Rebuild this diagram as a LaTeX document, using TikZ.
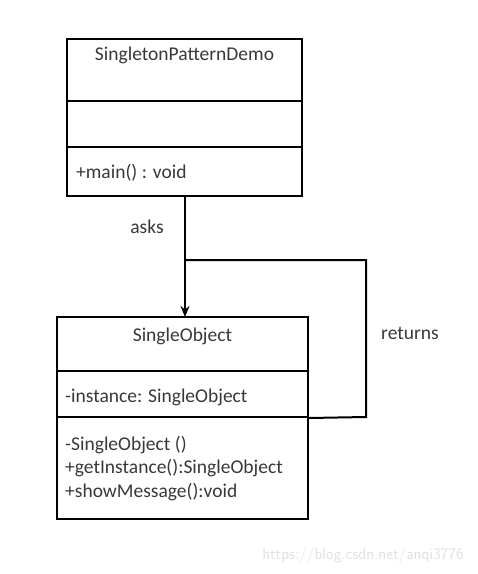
\documentclass[tikz,border=0pt]{standalone}
\usepackage{fontspec}
\setmainfont{Carlito}
\usetikzlibrary{arrows.meta}
\begin{document}
\begin{tikzpicture}[x=1pt,y=-1pt,
  comp/.style={draw=black, line width=2pt, inner sep=0pt},
  lbl/.style={font=\fontsize{19.5}{23}\selectfont, text=black!78, inner sep=0pt},
  conn/.style={draw=black, line width=2pt},
  ]
\useasboundingbox (0,0) rectangle (478,574);
% top class
\node[comp, minimum width=235pt, minimum height=62pt] (t1) at (184.5,70) {};
\node[comp, minimum width=235pt, minimum height=46pt] (t2) at (184.5,124) {};
\node[comp, minimum width=235pt, minimum height=49pt] (t3) at (184.5,171.5) {};
\node[lbl] (tname) at (184.5,55) {SingletonPatternDemo};
\node[lbl, anchor=west] (tmain) at (76,173) {+main() : void};
% bottom class
\node[comp, minimum width=251pt, minimum height=54pt] (b1) at (182.5,344) {};
\node[comp, minimum width=251pt, minimum height=46pt] (b2) at (182.5,394) {};
\node[comp, minimum width=251pt, minimum height=102pt] (b3) at (182.5,468) {};
\node[lbl] (bname) at (182.5,336) {SingleObject};
\node[lbl, anchor=west] (binst) at (65,397) {-instance: SingleObject};
\node[lbl, anchor=west] (bm1) at (65,445) {-SingleObject ()};
\node[lbl, anchor=west] (bm2) at (65,468.5) {+getInstance():SingleObject};
\node[lbl, anchor=west] (bm3) at (65,492) {+showMessage():void};
% connectors
\coordinate (top) at (185,196);
\coordinate (tip) at (185,317);
\coordinate (j) at (185,260);
\coordinate (r1) at (366,260);
\coordinate (r2) at (366,417);
\draw[conn, -{Stealth[length=11pt,width=9pt]}] (top) -- (tip);
\draw[conn] (j) -- (r1) -- (r2) -- (b2.south east);
\node[lbl] (asks) at (147,227) {asks};
\node[lbl] (returns) at (410,333) {returns};
% watermark
\node[font=\sffamily\fontsize{16.3}{18}\selectfont, text=black!12, inner sep=0pt] (wm) at (363,555) {https://blog.csdn.net/anqi3776};
\end{tikzpicture}
\end{document}
